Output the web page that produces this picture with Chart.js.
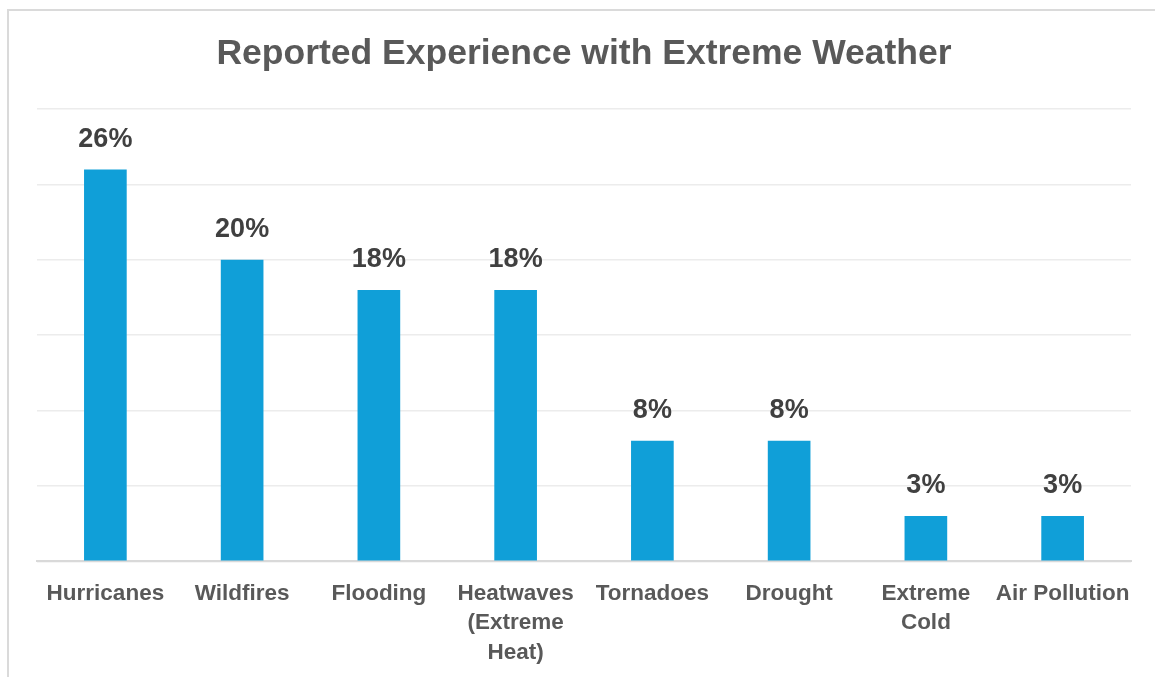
<!DOCTYPE html>
<html>
<head>
<meta charset="utf-8">
<script src="https://cdn.jsdelivr.net/npm/chart.js@4"></script>
<style>
  html, body { margin: 0; padding: 0; background: #fff; overflow: hidden; }
  #wrap { position: relative; width: 1155px; height: 677px; }
  #frame { position: absolute; left: 7px; top: 9px; width: 1160px; height: 680px;
           border: 2px solid #dadada; box-sizing: border-box; pointer-events: none; }
</style>
</head>
<body>
<div id="wrap">
  <canvas id="chart" width="1155" height="677"></canvas>
  <div id="frame"></div>
</div>
<script>
// data
const categories = ["Hurricanes", "Wildfires", "Flooding", ["Heatwaves", "(Extreme", "Heat)"],
                    "Tornadoes", "Drought", ["Extreme", "Cold"], "Air Pollution"];
const shares = [26, 20, 18, 18, 8, 8, 3, 3];
const yMax = 30;
const yStep = 5;

const FONT = "'Liberation Sans', Arial, sans-serif";

// value labels above bars
const barLabels = {
  id: "barLabels",
  afterDatasetsDraw(chart){
    const ctx = chart.ctx;
    const meta = chart.getDatasetMeta(0);
    ctx.save();
    ctx.font = "bold 27px " + FONT;
    ctx.fillStyle = "#404040";
    ctx.textAlign = "center";
    ctx.textBaseline = "middle";
    meta.data.forEach((bar, i)=>{
      ctx.fillText(shares[i] + "%", bar.x, bar.y - 30);
    });
    ctx.restore();
  }
};

new Chart(document.getElementById("chart"), {
  type: "bar",
  data: {
    labels: categories,
    datasets: [{
      data: shares,
      backgroundColor: "#109fd8",
      barPercentage: 0.312,
      categoryPercentage: 1
    }]
  },
  options: {
    responsive: false,
    animation: false,
    layout: { padding: { left: 37, right: 24, top: 0, bottom: -8 } },
    plugins: {
      legend: { display: false },
      tooltip: { enabled: false },
      title: {
        display: true,
        text: "Reported Experience with Extreme Weather",
        color: "#595959",
        font: { family: FONT, size: 35.5, weight: "bold" },
        padding: { top: 33, bottom: 33.5 }
      }
    },
    scales: {
      x: {
        grid: { display: false, drawTicks: false },
        border: { display: true, color: "#d9d9d9", width: 2 },
        ticks: {
          color: "#595959",
          font: { family: FONT, size: 22.5, weight: "bold", lineHeight: 1.3 },
          padding: 18,
          maxRotation: 0,
          autoSkip: false
        }
      },
      y: {
        min: 0,
        max: yMax,
        ticks: { display: false, stepSize: yStep },
        grid: { color: "#ececec", lineWidth: 1.5, drawTicks: false },
        border: { display: false }
      }
    }
  },
  plugins: [barLabels]
});
</script>
</body>
</html>
